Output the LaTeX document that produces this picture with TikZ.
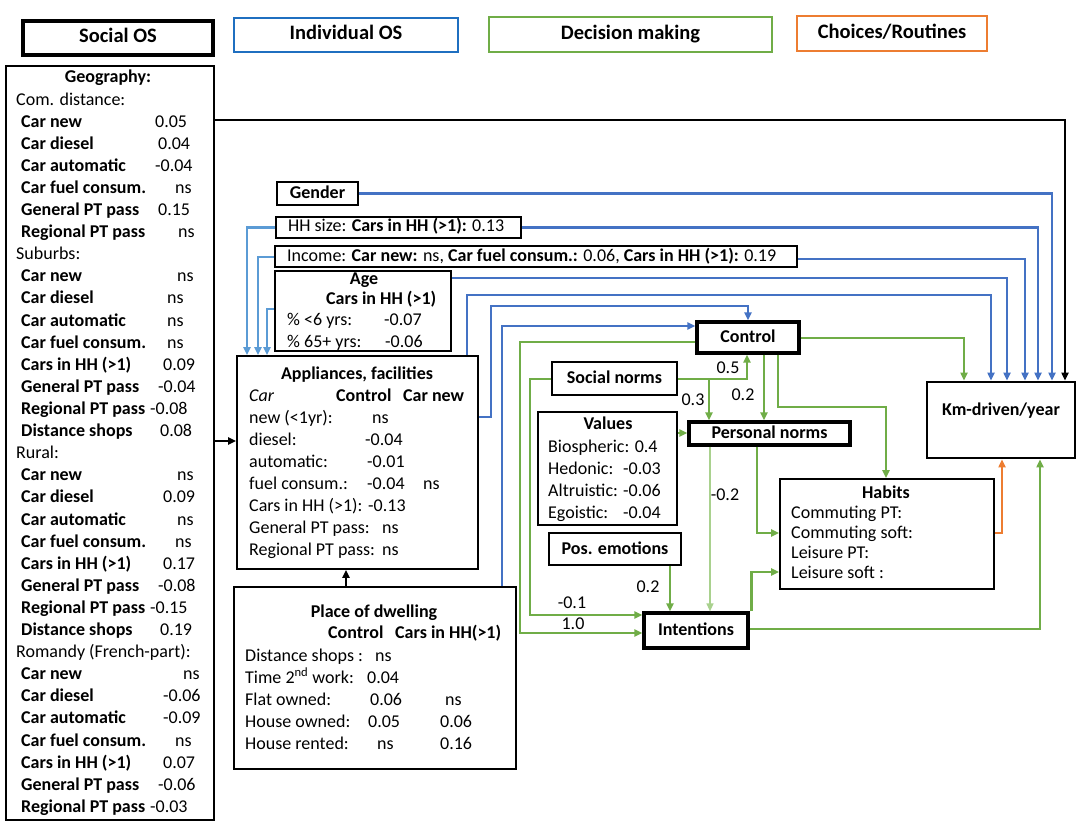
\documentclass[tikz,border=0pt]{standalone}
\usepackage{fontspec}
\setmainfont{Carlito}
\usetikzlibrary{arrows.meta,fit}

\definecolor{indblue}{RGB}{31,111,192}
\definecolor{linkblue}{RGB}{68,114,196}
\definecolor{feedblue}{RGB}{91,155,213}
\definecolor{decgreen}{RGB}{112,173,71}
\definecolor{palegreen}{RGB}{169,209,142}
\definecolor{choiceorange}{RGB}{237,125,49}

\newcommand{\fs}{\fontsize{18}{21}\selectfont}

\tikzset{
  box/.style={draw, line width=1.6pt, inner sep=0pt, fit={#1}},
  keybox/.style={box={#1}, line width=3.2pt},
  legbox/.style={draw, line width=2.6pt, inner sep=0pt, fit={#1}},
  txt/.style={anchor=west, inner sep=0pt, text height=13pt, text depth=3pt, font=\fs},
  btxt/.style={txt, font=\fs\bfseries},
  ctxt/.style={txt, anchor=center},
  cbtxt/.style={btxt, anchor=center},
  legtxt/.style={cbtxt, font=\fontsize{20.5}{24}\selectfont\bfseries},
  con/.style={line width=2.4pt, -{Triangle[length=8pt,width=7pt]}},
  soccon/.style={con, draw=black},
  indcon/.style={con, draw=linkblue},
  feedcon/.style={con, draw=feedblue},
  deccon/.style={con, draw=decgreen},
  paleline/.style={con, line width=1.4pt, draw=palegreen},
  chocon/.style={con, draw=choiceorange}
}

\begin{document}
\begin{tikzpicture}[x=1pt,y=-1pt]
\useasboundingbox (0,0) rectangle (1084,826);

% legend
\node[legbox={(23,21) (213,55)}, line width=3.4pt] (legsoc) {};
\node[legtxt] at (legsoc.center) {Social OS};
\node[legbox={(234,18) (458,52)}, draw=indblue] (legind) {};
\node[legtxt] at (legind.center) {Individual OS};
\node[legbox={(489,17) (772,52)}, draw=decgreen] (legdec) {};
\node[legtxt] at (legdec.center) {Decision making};
\node[legbox={(797,16) (987,51)}, draw=choiceorange] (legcho) {};
\node[legtxt] at (legcho.center) {Choices/Routines};

% social OS
\node[box={(6,66) (214,820)}] (geo) {};
\node[cbtxt] (geotitle) at (108,78) {Geography:};
\foreach \r/\lab in {1/Com. distance:, 8/Suburbs:, 17/Rural:, 26/Romandy (French-part):}
  \node[txt] (gh\r) at (16,78+22.1*\r) {\lab};
\foreach \r/\lab/\val/\vx in {
  2/Car new/0.05/155, 3/Car diesel/0.04/158, 4/Car automatic/-0.04/155,
  5/Car fuel consum./ns/175, 6/General PT pass/0.15/158, 7/Regional PT pass/ns/178,
  9/Car new/ns/177, 10/Car diesel/ns/167, 11/Car automatic/ns/167,
  12/Car fuel consum./ns/167, 13/Cars in HH (>1)/0.09/163, 14/General PT pass/-0.04/158,
  15/Regional PT pass/-0.08/150, 16/Distance shops/0.08/160,
  18/Car new/ns/177, 19/Car diesel/0.09/163, 20/Car automatic/ns/177,
  21/Car fuel consum./ns/175, 22/Cars in HH (>1)/0.17/163, 23/General PT pass/-0.08/158,
  24/Regional PT pass/-0.15/150, 25/Distance shops/0.19/160,
  27/Car new/ns/183, 28/Car diesel/-0.06/163, 29/Car automatic/-0.09/163,
  30/Car fuel consum./ns/175, 31/Cars in HH (>1)/0.07/163, 32/General PT pass/-0.06/158,
  33/Regional PT pass/-0.03/150}
{
  \node[btxt] (gi\r) at (21,78+22.1*\r) {\lab};
  \node[txt] (gv\r) at (\vx,78+22.1*\r) {\val};
}

% individual OS
\node[box={(277,182) (358,205)}] (gender) {};
\node[cbtxt] at (gender.center) {Gender};
\node[box={(276,217) (521,238)}] (hhsize) {};
\node[txt] (hhtxt) at (288,227) {HH size: \textbf{Cars in HH (>1):} 0.13};
\node[box={(275,246) (797,267)}] (income) {};
\node[txt] (inctxt) at (287,257) {Income: \textbf{Car new:} ns, \textbf{Car fuel consum.:} 0.06, \textbf{Cars in HH (>1):} 0.19};
\node[box={(275,271) (451,351)}] (age) {};
\node[cbtxt] (agetitle) at (364,280) {Age};
\node[btxt] (agehead) at (326,300) {Cars in HH (>1)};
\node[txt] (age1) at (287,321) {\% <6 yrs:};
\node[txt] (age1v) at (384,321) {-0.07};
\node[txt] (age2) at (287,342) {\% 65+ yrs:};
\node[txt] (age2v) at (385,342) {-0.06};

\node[box={(237,356) (478,569)}] (appl) {};
\node[cbtxt] (appltitle) at (357,374) {Appliances, facilities};
\node[txt, font=\fs\itshape] (applcar) at (249,396) {Car};
\node[btxt] (applctrl) at (336,396) {Control};
\node[btxt] (applnew) at (403,396) {Car new};
\foreach \r/\lab/\val/\vx in {0/new (<1yr):/ns/372, 1/diesel:/-0.04/365,
  2/automatic:/-0.01/367, 3/fuel consum.:/-0.04/367, 4/Cars in HH (>1):/-0.13/368,
  5/General PT pass:/ns/382, 6/Regional PT pass:/ns/382}
{
  \node[txt] (ar\r) at (249,418+22*\r) {\lab};
  \node[txt] (av\r) at (\vx,418+22*\r) {\val};
}
\node[txt] (av3b) at (423,484) {ns};

\node[box={(234,587) (516,769)}] (dwell) {};
\node[cbtxt] (dwelltitle) at (374,612) {Place of dwelling};
\node[btxt] (dwellctrl) at (328,633) {Control};
\node[btxt] (dwellcars) at (395,633) {Cars in HH(>1)};
\foreach \r/\lab/\val/\vx in {0/Distance shops :/ns/375, 1/Time 2\textsuperscript{nd} work:/0.04/367,
  2/Flat owned:/0.06/370, 3/House owned:/0.05/368, 4/House rented:/ns/377}
{
  \node[txt] (dr\r) at (245,656+22*\r) {\lab};
  \node[txt] (dv\r) at (\vx,656+22*\r) {\val};
}
\node[txt] (dw2) at (445,700) {ns};
\node[txt] (dw3) at (440,722) {0.06};
\node[txt] (dw4) at (440,744) {0.16};

% decision making
\node[keybox={(697,322) (799,353)}] (control) {};
\node[cbtxt] at (control.center) {Control};
\node[box={(552,362) (677,395)}] (social) {};
\node[cbtxt] at (social.center) {Social norms};
\node[box={(538,412) (677,525)}] (values) {};
\node[cbtxt] (valtitle) at (608,424) {Values};
\node[txt] (val1) at (548,447) {Biospheric: 0.4};
\foreach \r/\lab in {1/Hedonic:, 2/Altruistic:, 3/Egoistic:}
  \node[txt] (val\r) at (548,447+22*\r) {\lab};
\node[txt] (val2v) at (623,469) {-0.03};
\node[txt] (val3v) at (623,491) {-0.06};
\node[txt] (val4v) at (623,513) {-0.04};
\node[keybox={(689,422) (850,445)}] (persnorm) {};
\node[cbtxt] at (persnorm.center) {Personal norms};
\node[box={(549,533) (681,565)}] (posemo) {};
\node[cbtxt] at (posemo.center) {Pos. emotions};
\node[keybox={(644,613) (748,648)}] (intent) {};
\node[cbtxt] at (intent.center) {Intentions};

% choices
\node[box={(780,479) (994,589)}] (habits) {};
\node[cbtxt] (habtitle) at (886,493) {Habits};
\foreach \r/\lab in {0/Commuting PT:, 1/Commuting soft:, 2/Leisure PT:, 3/Leisure soft :}
  \node[txt] (hab\r) at (791,513+20*\r) {\lab};
\node[box={(927,382) (1075,458)}, line width=2.8pt] (km) {};
\node[cbtxt] (kmtxt) at (1001,410) {Km-driven/year};

% social OS links
\draw[soccon] (geo.east |- 0,120) -| (km.north -| 1065,0);
\draw[soccon] (geo.east |- 0,441) -- (appl.west |- 0,441);
\draw[soccon] (dwell.north -| 346,0) -- (appl.south -| 346,0);

% individual OS links
\draw[indcon] (gender.east) -| (km.north -| 1052,0);
\draw[indcon] (hhsize.east) -| (km.north -| 1038,0);
\draw[indcon] (income.east |- 0,259) -| (km.north -| 1025,0);
\draw[indcon] (age.east |- 0,278) -| (km.north -| 1007,0);
\draw[indcon] (appl.north -| 467,0) -- (467,295) -| (km.north -| 991,0);
\draw[indcon] (appl.east |- 0,417) -- (491,417) |- (748,306) -- (control.north -| 748,0);
\draw[indcon] (dwell.north -| 502,0) |- (control.west |- 0,326);
\draw[feedcon] (hhsize.west) -| (appl.north -| 247,0);
\draw[feedcon] (income.west |- 0,257) -| (appl.north -| 258,0);
\draw[feedcon] (age.west |- 0,309) -| (appl.north -| 267,0);

% decision links
\draw[deccon] (control.east |- 0,338) -| (km.north -| 964,0);
\draw[deccon] (control.south -| 764,0) -- (persnorm.north -| 764,0);
\draw[deccon] (control.south -| 778,0) |- (886,407) -- (habits.north -| 886,0);
\draw[deccon] (control.west |- 0,342) -| (520,633) -- (intent.west |- 0,633);
\draw[deccon] (social.west |- 0,379) -| (530,615) -- (intent.west |- 0,615);
\draw[deccon] (social.east |- 0,379) -| (control.south -| 747,0);
\coordinate (split) at (709,379);
\draw[deccon] (split) -- (persnorm.north -| split);
\draw[deccon] (values.east |- 0,433) -- (persnorm.west |- 0,433);
\draw[paleline] (persnorm.south -| 710,0) -- (intent.north -| 710,0);
\draw[deccon] (persnorm.south -| 757,0) |- (habits.west |- 0,533);
\draw[deccon] (posemo.south -| 670,0) -- (intent.north -| 670,0);
\draw[deccon] ([xshift=2pt]intent.north east) |- (habits.west |- 0,572);
\draw[deccon] (intent.east |- 0,629) -| (km.south -| 1040,0);
\draw[chocon] (habits.east |- 0,533) -| (km.south -| 1002,0);

% labels
\node[ctxt] (l05) at (728,368) {0.5};
\node[ctxt] (l03) at (693,400) {0.3};
\node[ctxt] (l02a) at (743,395) {0.2};
\node[ctxt] (lm02) at (725,495) {-0.2};
\node[ctxt] (l02b) at (648,587) {0.2};
\node[ctxt] (lm01) at (572,603) {-0.1};
\node[ctxt] (l10) at (573,624) {1.0};
\end{tikzpicture}
\end{document}
